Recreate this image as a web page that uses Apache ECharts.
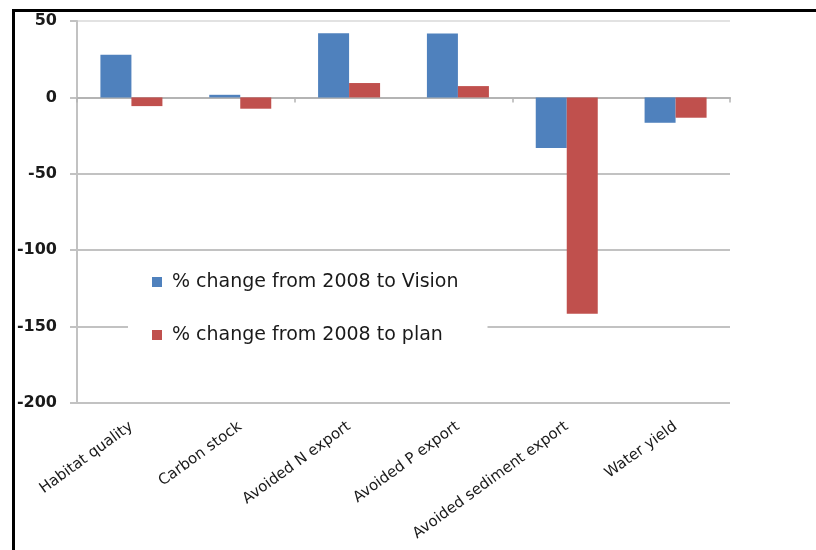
<!DOCTYPE html>
<html>
<head>
<meta charset="utf-8">
<script src="https://cdn.jsdelivr.net/npm/echarts@6/dist/echarts.min.js"></script>
<style>
  html, body { margin: 0; padding: 0; background: #fff; }
  #wrap { position: relative; width: 816px; height: 550px; overflow: hidden; }
  #chart { position: absolute; left: 0; top: 0; width: 816px; height: 550px; }
  #frame { position: absolute; left: 12px; top: 9px; width: 810px; height: 560px;
           border-top: 3px solid #000; border-left: 3px solid #000; pointer-events: none; }
</style>
</head>
<body>
<div id="wrap">
  <div id="chart"></div>
  <div id="frame"></div>
</div>
<script>
const categories = ['Habitat quality', 'Carbon stock', 'Avoided N export', 'Avoided P export', 'Avoided sediment export', 'Water yield'];
const seriesNames = ['% change from 2008 to Vision', '% change from 2008 to plan'];
const visionValues = [27.9, 1.7, 42.0, 41.8, -33.1, -16.6];
const planValues = [-5.7, -7.4, 9.4, 7.4, -141.6, -13.3];
const yMin = -200, yMax = 50, yStep = 50;

const chart = echarts.init(document.getElementById('chart'), null, { renderer: 'canvas' });
const gridColor = '#c2c2c2';
chart.setOption({
  animation: false,
  backgroundColor: '#ffffff',
  color: ['#4F81BD', '#C0504D'],
  grid: { left: 77, right: 86, top: 21, bottom: 147, containLabel: false },
  legend: {
    orient: 'vertical',
    left: 128,
    top: 262,
    padding: [10, 29, 10, 24],
    backgroundColor: '#ffffff',
    itemWidth: 10,
    itemHeight: 10,
    itemGap: 33,
    icon: 'rect',
    textStyle: { fontFamily: 'DejaVu Sans', fontSize: 19, color: '#1a1a1a', lineHeight: 20, padding: [0, 0, 0, 5] },
    data: seriesNames
  },
  xAxis: [
    {
      type: 'category',
      data: categories,
      boundaryGap: true,
      axisLine: { onZero: true, lineStyle: { color: '#b4b4b4', width: 2 } },
      axisTick: { show: true, length: 5, lineStyle: { color: '#b4b4b4', width: 1.5 } },
      axisLabel: { show: false },
      splitLine: { show: false }
    },
    {
      type: 'category',
      data: categories,
      boundaryGap: true,
      position: 'bottom',
      axisLine: { show: false, onZero: false },
      axisTick: { show: false },
      axisLabel: {
        show: true, interval: 0, rotate: 36, margin: 22,
        fontFamily: 'DejaVu Sans', fontSize: 15, color: '#1a1a1a'
      },
      splitLine: { show: false }
    }
  ],
  yAxis: {
    type: 'value',
    min: yMin, max: yMax, interval: yStep,
    axisLine: { show: true, lineStyle: { color: '#c2c2c2', width: 2 } },
    axisTick: { show: true, length: 7, lineStyle: { color: gridColor, width: 2 } },
    axisLabel: { margin: 20, fontFamily: 'DejaVu Sans', fontSize: 16, fontWeight: 'bold', color: '#1a1a1a' },
    splitLine: { show: true, lineStyle: { color: [gridColor, gridColor, gridColor, gridColor, gridColor, '#e2e2e2'], width: 2 } }
  },
  series: [
    { name: seriesNames[0], type: 'bar', xAxisIndex: 0, data: visionValues, barWidth: 31, barGap: '0%',
      itemStyle: { color: '#4F81BD' } },
    { name: seriesNames[1], type: 'bar', xAxisIndex: 0, data: planValues, barWidth: 31, barGap: '0%',
      itemStyle: { color: '#C0504D' } }
  ]
});
</script>
</body>
</html>
